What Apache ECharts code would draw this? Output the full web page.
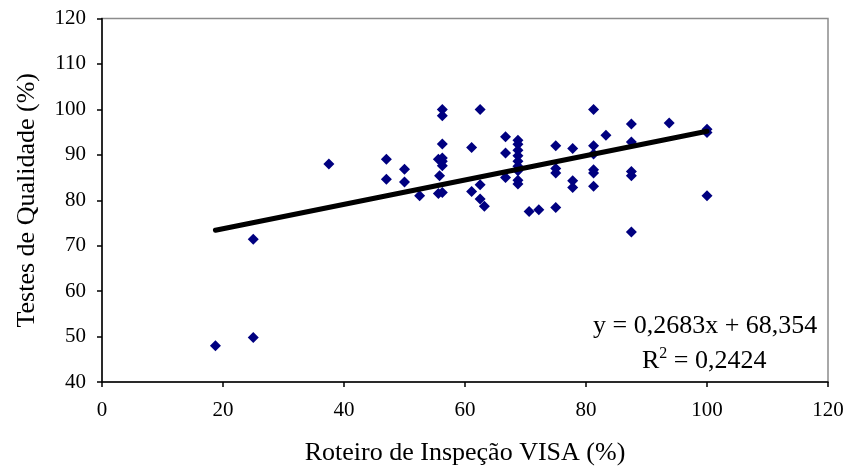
<!DOCTYPE html>
<html>
<head>
<meta charset="utf-8">
<script src="https://cdn.jsdelivr.net/npm/echarts@6/dist/echarts.min.js"></script>
<style>
  html, body { margin: 0; padding: 0; background: #fff; }
  #chart { width: 847px; height: 471px; }
</style>
</head>
<body>
<div id="chart"></div>
<script>
// Roteiro de Inspeção VISA (%) vs Testes de Qualidade (%)
const roteiro = [
  18.75, 25, 25, 37.5, 47, 47, 50, 50, 52.5, 55.6,
  55.8, 55.6, 56.25, 56.25, 56.25, 56.25, 56.25, 56.25, 56.25, 61.1,
  61.1, 62.5, 62.5, 62.5, 63.2, 66.7, 66.7, 66.7, 68.75, 68.75,
  68.75, 68.75, 68.75, 68.75, 68.75, 68.75, 68.75, 70.6, 72.2, 75,
  75, 75, 75, 77.8, 77.8, 77.8, 81.25, 81.25, 81.25, 81.25,
  81.25, 81.25, 83.3, 87.5, 87.5, 87.5, 87.5, 87.5, 93.75, 100,
  100, 100
];
const testes = [
  48, 49.8, 71.4, 88, 89, 84.6, 86.8, 84, 81, 89,
  85.4, 81.5, 100, 98.6, 92.4, 88.6, 87.6, 81.7, 89.3, 91.6,
  81.9, 100, 83.4, 80.3, 78.7, 94, 90.4, 85, 93.2, 92.3,
  91, 89.8, 88.6, 87.5, 86.5, 84.4, 83.6, 77.5, 77.9, 92,
  87, 86, 78.4, 91.4, 84.3, 82.8, 100, 92, 90.2, 86.7,
  86, 83.1, 94.3, 96.8, 92.8, 86.3, 85.4, 73, 97, 95.6,
  94.9, 81
];

// Linear trend: y = 0,2683x + 68,354 ; R² = 0,2424
const slope = 0.2683;
const intercept = 68.354;
const xTicks = [0, 20, 40, 60, 80, 100, 120];
const yTicks = [40, 50, 60, 70, 80, 90, 100, 110, 120];

const points = roteiro.map((x, i) => [x, testes[i]]);
const xMin = Math.min(...roteiro);
const xMax = Math.max(...roteiro);
const trend = [[xMin, slope * xMin + intercept], [xMax, slope * xMax + intercept]];

const serif = 'Liberation Serif, Times New Roman, serif';
const chart = echarts.init(document.getElementById('chart'), null, { renderer: 'canvas' });

chart.setOption({
  animation: false,
  backgroundColor: '#ffffff',
  grid: {
    left: 102, right: 19, top: 18.5, bottom: 88,
    show: true, borderColor: '#8c8c8c', borderWidth: 1.5, backgroundColor: 'transparent'
  },
  xAxis: {
    type: 'value',
    min: xTicks[0], max: xTicks[xTicks.length - 1], interval: 20,
    name: 'Roteiro de Inspeção VISA (%)',
    nameLocation: 'middle', nameGap: 58,
    nameTextStyle: { fontFamily: serif, fontSize: 26, color: '#000' },
    axisLine: { show: true, onZero: false, lineStyle: { color: '#000', width: 1.5 } },
    axisTick: { show: true, inside: false, length: 5, lineStyle: { color: '#000', width: 1.5 } },
    axisLabel: { fontFamily: serif, fontSize: 21, color: '#000', margin: 18 },
    splitLine: { show: false }
  },
  yAxis: {
    type: 'value',
    min: yTicks[0], max: yTicks[yTicks.length - 1], interval: 10,
    name: 'Testes de Qualidade (%)',
    nameLocation: 'middle', nameGap: 62, nameRotate: 90,
    nameTextStyle: { fontFamily: serif, fontSize: 26, color: '#000' },
    axisLine: { show: true, onZero: false, lineStyle: { color: '#000', width: 1.5 } },
    axisTick: { show: true, inside: false, length: 5, lineStyle: { color: '#000', width: 1.5 } },
    axisLabel: { fontFamily: serif, fontSize: 21, color: '#000', margin: 16 },
    splitLine: { show: false }
  },
  series: [
    {
      type: 'scatter',
      data: points,
      symbol: 'diamond',
      symbolSize: 11,
      itemStyle: { color: '#000080', opacity: 1 },
      z: 3
    },
    {
      type: 'line',
      data: trend,
      symbol: 'none',
      lineStyle: { color: '#000', width: 5, cap: 'round' },
      z: 4
    }
  ],
  graphic: [
    {
      type: 'text',
      left: 593, top: 313,
      style: {
        text: 'y = 0,2683x + 68,354',
        font: '26px ' + serif,
        fill: '#000'
      }
    },
    {
      type: 'text',
      left: 642, top: 346,
      style: {
        text: '{r|R}{s|2}{r| = 0,2424}',
        fill: '#000',
        rich: {
          r: { fontFamily: serif, fontSize: 26, color: '#000', verticalAlign: 'bottom' },
          s: { fontFamily: serif, fontSize: 16, color: '#000', verticalAlign: 'top', padding: [0, 0, 12, 0] }
        }
      }
    }
  ]
});
</script>
</body>
</html>
